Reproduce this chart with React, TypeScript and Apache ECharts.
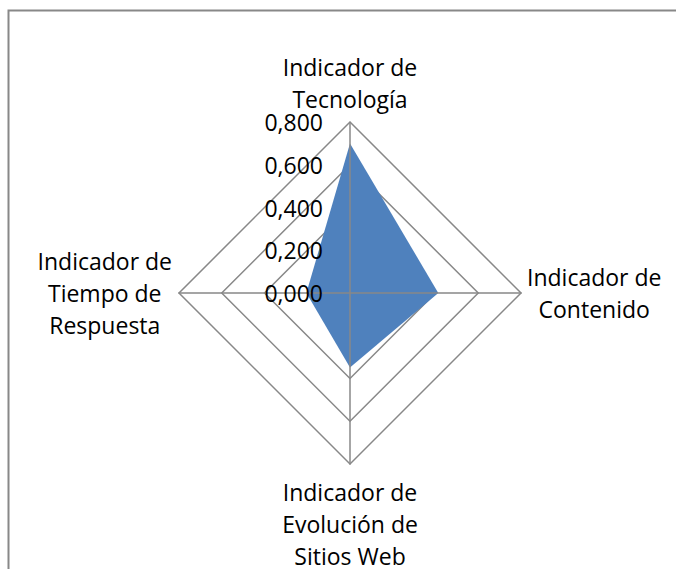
import React, { useEffect, useRef } from "react";
import * as echarts from "echarts";

const indicatorNames = [
  "Indicador de\nTecnología",
  "Indicador de\nTiempo de\nRespuesta",
  "Indicador de\nEvolución de\nSitios Web",
  "Indicador de\nContenido",
];
const nameGaps = [7, 7, 12, 6];
const values = [0.7, 0.204, 0.348, 0.413];
const axisMax = 0.8;

export default function App() {
  const ref = useRef<HTMLDivElement>(null);
  useEffect(() => {
    const chart = echarts.init(ref.current!, null, { renderer: "svg" });
    const font = "Open Sans";
    const fs = 23;
    const baseRadar = {
      center: [350, 293],
      radius: 171,
      startAngle: 90,
      shape: "polygon",
      splitNumber: 4,
      splitArea: { show: false },
    };
    chart.setOption({
      animation: false,
      backgroundColor: "#ffffff",
      graphic: [
        {
          type: "rect",
          shape: { x: 8.5, y: 10.5, width: 700, height: 600 },
          style: { fill: "none", stroke: "#888888", lineWidth: 2 },
          z: 10,
        },
      ],
      radar: [
        {
          ...baseRadar,
          z: 1,
          splitLine: { lineStyle: { color: "#888888", width: 1.5 } },
          axisLine: { show: false },
          axisLabel: { show: false },
          axisName: {
            color: "#000000",
            fontFamily: font,
            fontSize: fs,
            lineHeight: 32,
            formatter: (name: string) =>
              name
                .split("\n")
                .map((l) => `{a|${l}}`)
                .join("\n"),
            rich: { a: { align: "center", fontFamily: font, fontSize: fs, lineHeight: 32, color: "#000" } },
          },
          indicator: indicatorNames.map((n, i) => ({
            name: n,
            min: 0,
            max: axisMax,
            nameGap: nameGaps[i],
          })),
        },
        {
          ...baseRadar,
          z: 5,
          splitLine: { show: false },
          axisLine: { lineStyle: { color: "#888888", width: 1.5 } },
          axisLabel: { show: false },
          axisName: { show: false },
          indicator: indicatorNames.map((n, i) => ({
            name: n,
            min: 0,
            max: axisMax,
            axisLabel:
              i === 0
                ? {
                    show: true,
                    margin: 27,
                    color: "#000000",
                    fontFamily: font,
                    fontSize: fs,
                    formatter: (v: number) => v.toFixed(3).replace(".", ","),
                  }
                : { show: false },
          })),
        },
      ],
      series: [
        {
          type: "radar",
          radarIndex: 0,
          symbol: "none",
          lineStyle: { width: 0 },
          areaStyle: { color: "#4f81bd", opacity: 1 },
          data: [{ value: values }],
          z: 3,
        },
      ],
    });
    return () => chart.dispose();
  }, []);
  return (
    <div
      ref={ref}
      style={{ position: "fixed", left: 0, top: 0, width: 676, height: 569 }}
    />
  );
}
